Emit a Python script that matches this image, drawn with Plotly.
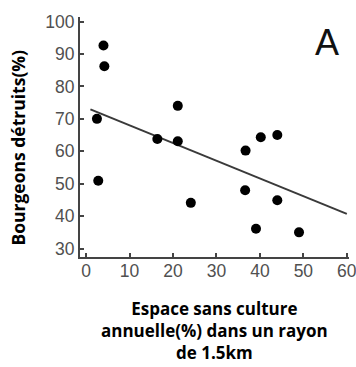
import plotly.graph_objects as go

# Data
espace = [4.0, 4.2, 2.5, 2.8, 16.4, 21.1, 21.1, 24.1, 36.7, 36.6, 40.2, 39.1, 44.0, 44.0, 49.0]
bourgeons = [92.6, 86.2, 70.0, 50.9, 63.8, 74.0, 63.1, 44.1, 60.2, 48.0, 64.3, 36.1, 65.0, 44.9, 35.0]
fit_x = [1.0, 60.0]
fit_y = [72.9, 40.7]
x_ticks = [0, 10, 20, 30, 40, 50, 60]
y_ticks = [30, 40, 50, 60, 70, 80, 90, 100]

fig = go.Figure()
fig.add_trace(go.Scatter(x=fit_x, y=fit_y, mode="lines",
                         line=dict(color="#3a3a3a", width=2), showlegend=False))
fig.add_trace(go.Scatter(x=espace, y=bourgeons, mode="markers",
                         marker=dict(color="black", size=10), showlegend=False))

axis_common = dict(showgrid=False, zeroline=False, showline=True, linecolor="#444",
                   linewidth=2, ticks="inside", ticklen=4, tickwidth=1.5, tickcolor="#444",
                   automargin=False, ticklabeloverflow="allow",
                   tickfont=dict(family="Liberation Sans, Arial", size=17.5, color="#505050"))
fig.update_xaxes(range=[-1.4, 60.5], tickvals=x_ticks, ticklabelstandoff=-3, **axis_common)
fig.update_yaxes(range=[27.4, 101.4], tickvals=y_ticks, **axis_common)

fig.add_annotation(text="A", xref="paper", yref="paper", x=1, y=1, xanchor="center",
                   yanchor="middle", xshift=-22, yshift=-25, showarrow=False,
                   font=dict(family="Liberation Sans, Arial", size=36, color="#111"))
fig.add_annotation(text="Bourgeons détruits(%)", xref="paper", yref="paper", x=0, y=0.456,
                   xanchor="center", yanchor="middle", xshift=-62, textangle=-90,
                   showarrow=False,
                   font=dict(family="Open Sans", size=17.5, color="black", weight="bold"))
fig.add_annotation(text="Espace sans culture<br>annuelle(%) dans un rayon<br>de 1.5km",
                   xref="paper", yref="paper", x=0.5, y=0, xanchor="center", yanchor="top",
                   yshift=-38, showarrow=False, align="center",
                   font=dict(family="Open Sans", size=17, color="black", weight="bold"))

fig.update_layout(width=356, height=367, margin=dict(l=80, r=7, t=17, b=110),
                  plot_bgcolor="white", paper_bgcolor="white")
fig.write_html("out.html", config={"displayModeBar": False},
               post_script="document.body.style.margin='0';document.body.style.overflow='hidden';")
